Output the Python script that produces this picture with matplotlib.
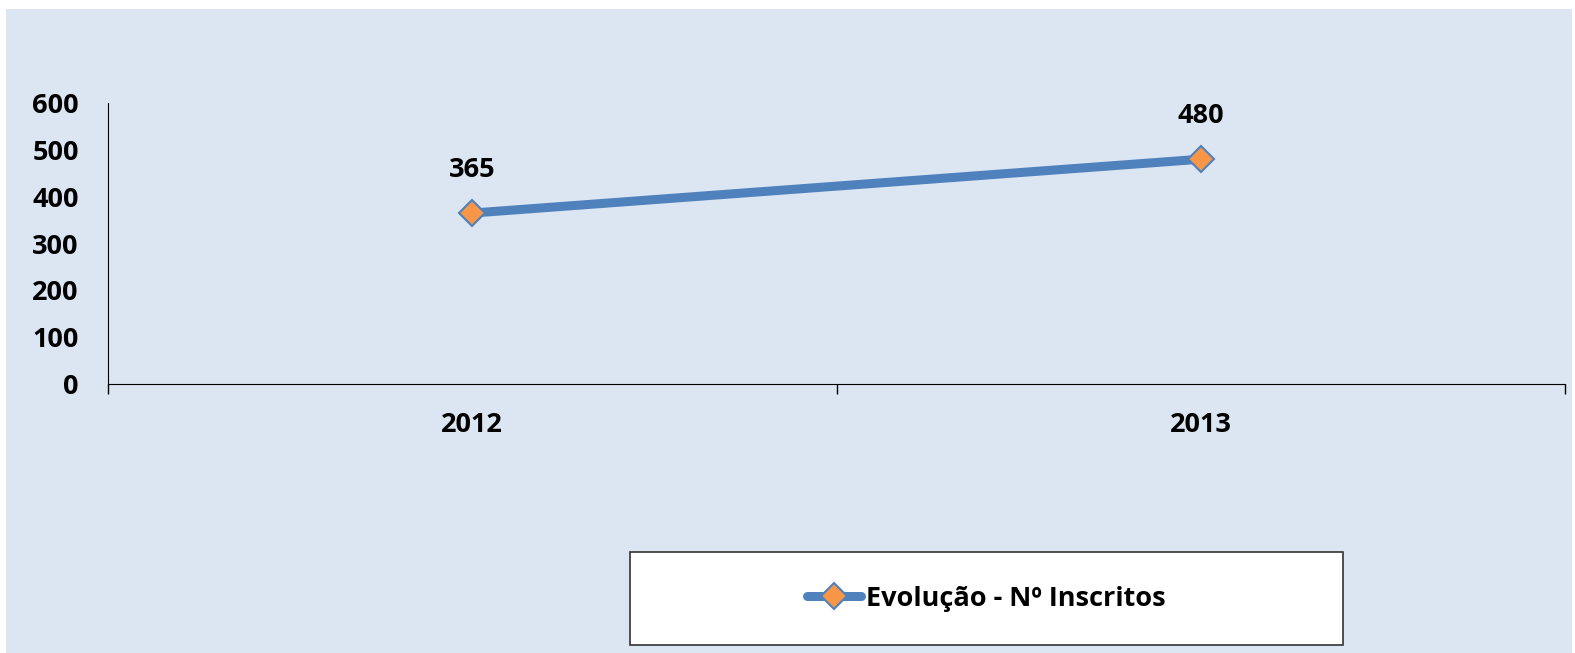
import matplotlib
matplotlib.use('Agg')
import matplotlib.pyplot as plt
from matplotlib.patches import Rectangle

# data
anos = ['2012', '2013']
inscritos = [365, 480]
yticks = [0, 100, 200, 300, 400, 500, 600]
serie_nome = 'Evolução - Nº Inscritos'

azul = '#4F81BD'
laranja = '#F79646'
fundo = '#DCE6F2'
fs = 19.5

plt.rcParams['font.family'] = ['Open Sans', 'DejaVu Sans']
plt.rcParams['font.weight'] = 'bold'

fig = plt.figure(figsize=(15.75, 6.53), dpi=100)
fig.patch.set_facecolor('white')
# chart area background
fig.patches.append(Rectangle((6 / 1575, 0), 1566 / 1575, 644 / 653,
                             transform=fig.transFigure, facecolor=fundo,
                             edgecolor='none', zorder=-5))

ax = fig.add_axes([108 / 1575, 1 - 384 / 653, 1457 / 1575, 281 / 653])
ax.set_facecolor('none')
ax.set_zorder(2)

x = list(range(len(anos)))
ax.plot(x, inscritos, color=azul, lw=6.5, marker='D', markersize=13,
        markerfacecolor=laranja, markeredgecolor=azul, markeredgewidth=1.5,
        label=serie_nome, solid_capstyle='round', zorder=3)

for xi, v in zip(x, inscritos):
    ax.annotate(str(v), (xi, v), xytext=(0, 31), textcoords='offset points',
                ha='center', va='center', fontsize=fs, fontweight='bold')

ax.set_xlim(-0.5, len(anos) - 0.5)
ax.set_ylim(0, 600)
ax.set_yticks(yticks)
ax.set_yticklabels([str(t) for t in yticks], fontsize=fs, fontweight='bold')
ax.tick_params(axis='y', length=0, pad=21)

ax.set_xticks([i - 0.5 for i in range(len(anos) + 1)], minor=False)
ax.set_xticklabels([''] * (len(anos) + 1))
ax.set_xticks(x, minor=True)
ax.set_xticklabels(anos, minor=True, fontsize=fs, fontweight='bold')
ax.tick_params(axis='x', which='major', direction='out', length=7, width=1, color='black')
ax.tick_params(axis='x', which='minor', length=0, pad=20)

for s in ['top', 'right']:
    ax.spines[s].set_visible(False)
ax.spines['left'].set_color('black')
ax.spines['bottom'].set_color('black')

# legend box
fig.patches.append(Rectangle((630 / 1575, 1 - 645 / 653), 713 / 1575, 93 / 653,
                             transform=fig.transFigure, facecolor='white',
                             edgecolor='#333333', lw=1.2, zorder=1))
leg = fig.legend(loc='center', bbox_to_anchor=(986.5 / 1575, 1 - 598.5 / 653),
                 frameon=False, handlelength=2.0, handletextpad=0.2,
                 prop={'weight': 'bold', 'size': fs})
leg.set_zorder(3)

fig.savefig('out.png', dpi=100, facecolor=fig.get_facecolor())
